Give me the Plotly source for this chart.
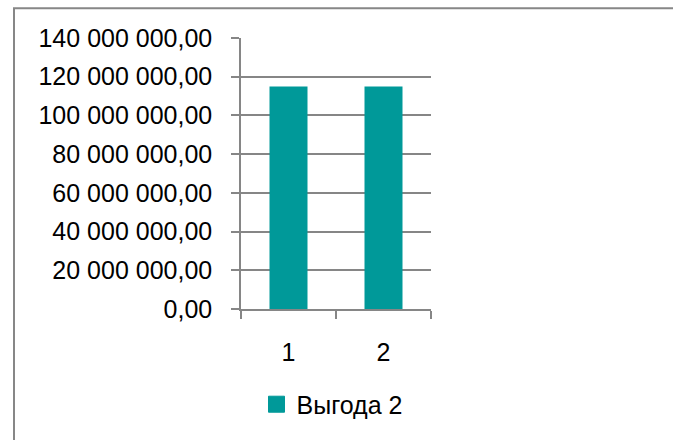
import plotly.graph_objects as go

categories = ["1", "2"]
values = [115000000, 115000000]
series_name = "Выгода 2"
y_ticks = [0, 20000000, 40000000, 60000000, 80000000, 100000000, 120000000, 140000000]

BAR = "#009999"
GRID = "#868686"
FONT = "Liberation Sans"

fig = go.Figure()
fig.add_trace(go.Bar(x=categories, y=values, marker=dict(color=BAR, line=dict(width=0)),
                     showlegend=False, name=series_name))
fig.add_trace(go.Scatter(x=[None], y=[None], mode="markers", name=series_name,
                         marker=dict(symbol="square", size=16, color=BAR,
                                     line=dict(color=BAR, width=1))))

L, R, T, B = 241, 431, 38, 311
W, H = 673, 440
pw = R - L
ph = B - T

fig.update_layout(
    width=W, height=H,
    margin=dict(l=L, r=W - R, t=T, b=H - B, pad=0),
    paper_bgcolor="white", plot_bgcolor="white",
    separators=", ",
    font=dict(family=FONT, size=25, color="#000000"),
    bargap=0.6,
    xaxis=dict(type="category", tickson="boundaries", ticks="outside", ticklen=8,
               tickcolor=GRID, tickwidth=1.5, showline=True, linecolor=GRID, linewidth=1.5,
               showgrid=False, ticklabelstandoff=20, zeroline=False),
    yaxis=dict(range=[0, 140000000], tickvals=y_ticks, tickformat=",.2f",
               ticks="outside", ticklen=8, tickcolor=GRID, tickwidth=1.5,
               showline=True, linecolor=GRID, linewidth=1.5,
               showgrid=True, gridcolor=GRID, gridwidth=1.5, zeroline=False,
               ticklabelstandoff=14),
    legend=dict(orientation="h", x=0.5 - 4 / pw, xanchor="center", y=-(384 - B) / ph,
                yanchor="top", font=dict(family=FONT, size=25), bgcolor="rgba(0,0,0,0)",
                itemwidth=30),
    shapes=[dict(type="rect", xref="paper", yref="paper",
                 x0=(14 - L) / pw, x1=(W + 20 - L) / pw,
                 y0=(B - (H + 20)) / ph, y1=(B - 8) / ph,
                 line=dict(color="#878787", width=2), fillcolor="rgba(0,0,0,0)", layer="below")],
)

fig.write_html("out.html")
